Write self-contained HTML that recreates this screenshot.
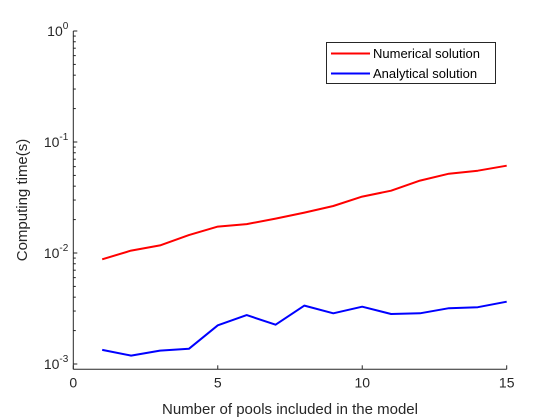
<!DOCTYPE html>
<html><head><meta charset="utf-8"><style>
body{margin:0;background:#fff;}
svg{display:block;font-family:"Liberation Sans",Arial,sans-serif;}
</style></head><body>
<svg id="chart" width="560" height="420" viewBox="0 0 560 420">
<rect width="560" height="420" fill="#fff"/>
<g id="axes"></g>
<g id="series"></g>
<g>
<rect x="326.5" y="42.5" width="169" height="41" fill="#fff" stroke="#262626" stroke-width="1"/>
<line x1="331" y1="53.5" x2="370" y2="53.5" stroke="#ff0000" stroke-width="2"/>
<text x="373" y="58" font-size="13" fill="#000">Numerical solution</text>
<line x1="331" y1="73.5" x2="370" y2="73.5" stroke="#0000ff" stroke-width="2"/>
<text x="373" y="78" font-size="13" fill="#000">Analytical solution</text>
</g>
<text x="290" y="414" font-size="15" text-anchor="middle" fill="#262626">Number of pools included in the model</text>
<text transform="translate(27,200) rotate(-90)" font-size="15" text-anchor="middle" fill="#262626">Computing time(s)</text>
</svg>
<script>
const xValues=[1,2,3,4,5,6,7,8,9,10,11,12,13,14,15];
const numerical=[0.00877,0.0105,0.0117,0.0145,0.0173,0.0182,0.0204,0.0231,0.0265,0.0322,0.0364,0.0449,0.0518,0.0551,0.0611];
const analytical=[0.00134,0.00119,0.00132,0.00137,0.00223,0.00276,0.00226,0.00336,0.00286,0.00328,0.00282,0.00286,0.00318,0.00325,0.00364];
const xTicks=[0,5,10,15];
const yTickExps=[-3,-2,-1,0];
const NS="http://www.w3.org/2000/svg";
const L=73.3,R=506.7,B=369.3,T=31,DEC=111;
const xMin=0,xMax=15;
function xs(v){return L+(v-xMin)/(xMax-xMin)*(R-L);}
function ys(v){return T-Math.log10(v)*DEC;}
const axes=document.getElementById('axes');
function mk(tag,attrs,parent){const e=document.createElementNS(NS,tag);for(const k in attrs)e.setAttribute(k,attrs[k]);parent.appendChild(e);return e;}
const xa=mk('line',{x1:L,y1:B,x2:R,y2:B,stroke:'#262626','stroke-width':1},axes);


const ya=mk('line',{x1:L,y1:B,x2:L,y2:T,stroke:'#262626','stroke-width':1},axes);


xTicks.forEach(t=>{
 const x=xs(t);
 mk('line',{x1:x,y1:B,x2:x,y2:B-4,stroke:'#262626'},axes);
 const tx=mk('text',{x:x,y:B+18,'font-size':14,'text-anchor':'middle',fill:'#262626'},axes);
 tx.textContent=t;
 
 
});
yTickExps.forEach(e=>{
 const y=ys(Math.pow(10,e));
 mk('line',{x1:L,y1:y,x2:L+4,y2:y,stroke:'#262626'},axes);
 if(e<0){for(let m=2;m<=9;m++){const yy=ys(m*Math.pow(10,e));mk('line',{x1:L,y1:yy,x2:L+2.5,y2:yy,stroke:'#262626'},axes);}}
 const tx=mk('text',{x:L-5,y:y+5,'font-size':14,'text-anchor':'end',fill:'#262626'},axes);
 
 
 const base=mk('tspan',{},tx);base.textContent='10';
 const sup=mk('tspan',{dy:-7,'font-size':10},tx);sup.textContent=String(e).replace('-','-');
});
const series=document.getElementById('series');
function line(vals,color,name){
 const d=vals.map((v,i)=>(i?'L':'M')+xs(xValues[i]).toFixed(1)+','+ys(v).toFixed(1)).join(' ');
 const p=mk('path',{d:d,fill:'none',stroke:color,'stroke-width':2,'stroke-linejoin':'round'},series);
 
 
}
line(numerical,'#ff0000','numerical-solution-line');
line(analytical,'#0000ff','analytical-solution-line');
</script>
</body></html>
